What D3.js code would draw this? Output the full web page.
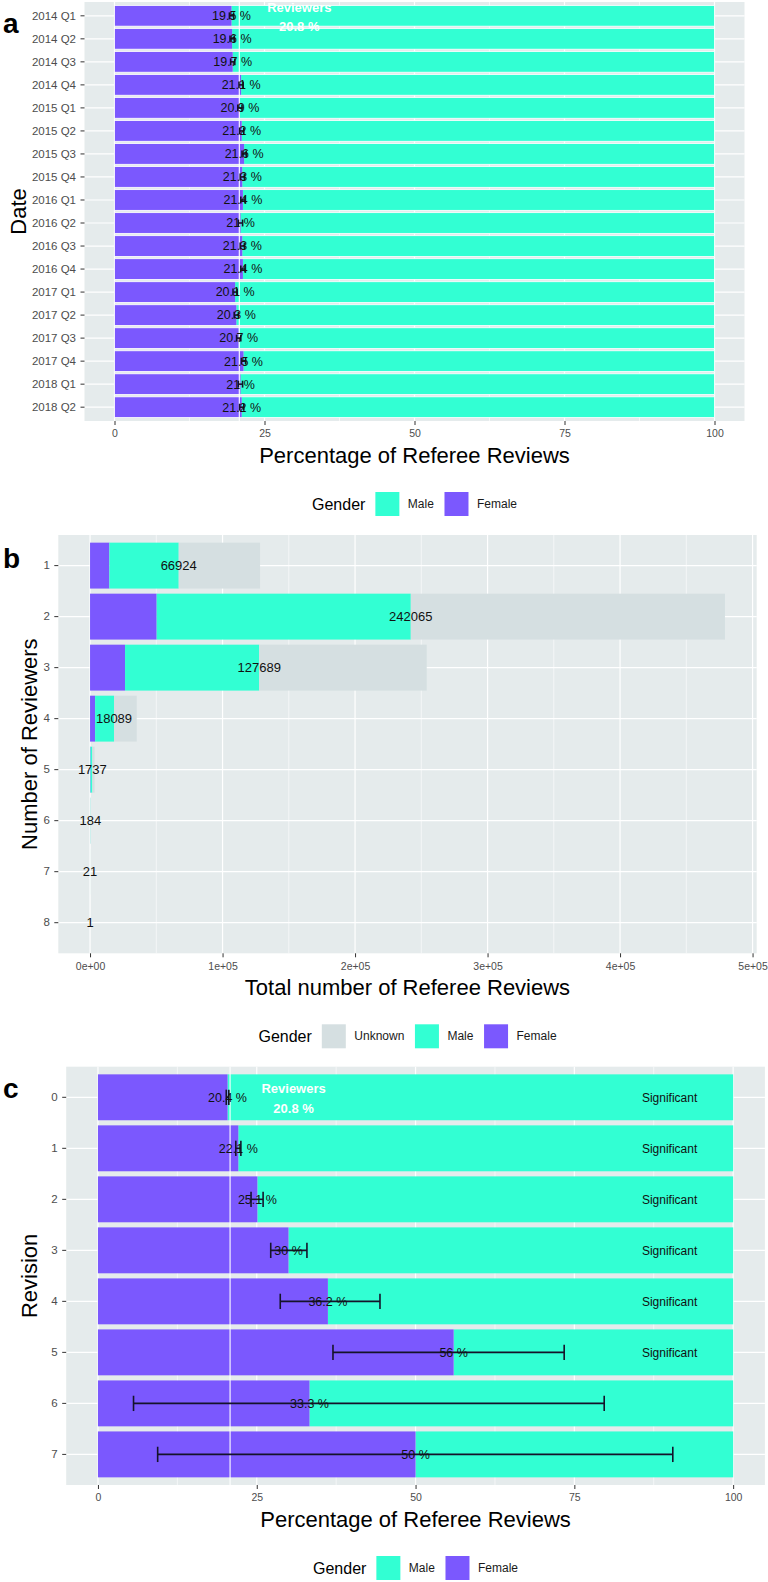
<!DOCTYPE html>
<html>
<head>
<meta charset="utf-8">
<script src="https://cdnjs.cloudflare.com/ajax/libs/d3/7.8.5/d3.min.js"></script>
<style>
  body { margin: 0; background: #fff; }
  svg text { font-family: "Liberation Sans", Arial, sans-serif; }
</style>
</head>
<body>
<svg id="chart" width="768" height="1582"></svg>
<script>
// panel a - share of female referees per quarter
const quarters = ['2014 Q1','2014 Q2','2014 Q3','2014 Q4','2015 Q1','2015 Q2','2015 Q3','2015 Q4','2016 Q1',
  '2016 Q2','2016 Q3','2016 Q4','2017 Q1','2017 Q2','2017 Q3','2017 Q4','2018 Q1','2018 Q2'];
const femaleByQuarter = [19.5,19.6,19.7,21.1,20.9,21.2,21.6,21.3,21.4,21,21.3,21.4,20.1,20.3,20.7,21.5,21,21.2];
const quarterLow  = [19.15,19.25,19.35,20.75,20.55,20.85,21.25,20.95,21.05,20.65,20.95,21.05,19.75,19.95,20.35,21.15,20.65,20.85];
const quarterHigh = [19.85,19.95,20.05,21.45,21.25,21.55,21.95,21.65,21.75,21.35,21.65,21.75,20.45,20.65,21.05,21.85,21.35,21.55];

// panel b - reviews by number of reviewers, stacked by gender
const reviewerCounts = ['1','2','3','4','5','6','7','8'];
const femaleReviews  = [14600, 50300, 26400, 3800, 380, 40, 5, 0];
const maleReviews    = [52324, 191765, 101289, 14289, 1357, 144, 16, 1];
const unknownReviews = [61400, 237100, 126400, 17160, 1700, 180, 20, 1];
const knownLabels    = ['66924','242065','127689','18089','1737','184','21','1'];

// panel c - share of female referees per revision round
const revisions = ['0','1','2','3','4','5','6','7'];
const femaleByRevision = [20.4, 22.1, 25.1, 30, 36.2, 56, 33.3, 50];
const revisionLow  = [20.2, 21.7, 24.1, 27.2, 28.7, 37.0, 5.6, 9.4];
const revisionHigh = [20.6, 22.5, 26.0, 32.9, 44.4, 73.4, 79.7, 90.5];
const significance = ['Significant','Significant','Significant','Significant','Significant','Significant','',''];

const reviewerShare = 20.8;
const percentTicks = [0, 25, 50, 75, 100];
const percentMinor = [12.5, 37.5, 62.5, 87.5];
const reviewTicks = [0, 1e5, 2e5, 3e5, 4e5, 5e5];
const reviewMinor = [5e4, 15e4, 25e4, 35e4, 45e4];

const FEMALE = '#7B58FE', MALE = '#32FFD3', UNKNOWN = '#D5DFE1', PANEL = '#E5EBEC';

const svg = d3.select('#chart');

// grey panel + white grid like ggplot
function frame(x, y, box, ticks, minor) {
  const g = svg.append('g');
  g.append('rect').attr('x', box.left).attr('y', box.top)
    .attr('width', box.right - box.left).attr('height', box.bottom - box.top).attr('fill', PANEL);
  g.selectAll('.minor').data(minor).enter().append('line')
    .attr('x1', d => x(d)).attr('x2', d => x(d)).attr('y1', box.top).attr('y2', box.bottom)
    .attr('stroke', '#fff').attr('stroke-width', 0.6);
  g.selectAll('.major').data(ticks).enter().append('line')
    .attr('x1', d => x(d)).attr('x2', d => x(d)).attr('y1', box.top).attr('y2', box.bottom)
    .attr('stroke', '#fff').attr('stroke-width', 1.2);
  g.selectAll('.hgrid').data(y.domain()).enter().append('line')
    .attr('x1', box.left).attr('x2', box.right)
    .attr('y1', d => y(d) + y.bandwidth() / 2).attr('y2', d => y(d) + y.bandwidth() / 2)
    .attr('stroke', '#fff').attr('stroke-width', 1.2);
}

function axes(x, y, box, ticks, fmt, xTitle, yTitle, yTitleX, letter, letterY) {
  const ya = svg.append('g').attr('transform', `translate(${box.left},0)`)
    .call(d3.axisLeft(y).tickSize(4).tickPadding(4.5));
  const xa = svg.append('g').attr('transform', `translate(0,${box.bottom})`)
    .call(d3.axisBottom(x).tickValues(ticks).tickFormat(fmt).tickSize(4).tickPadding(5));
  [ya, xa].forEach(a => {
    a.select('.domain').remove();
    a.selectAll('line').attr('stroke', '#333');
    a.selectAll('text').attr('fill', '#4D4D4D').attr('font-family', '"Liberation Sans", Arial, sans-serif');
  });
  ya.selectAll('text').attr('font-size', 11.5);
  xa.selectAll('text').attr('font-size', 10.5);

  svg.append('text').attr('x', (box.left + box.right) / 2).attr('y', box.bottom + 42)
    .attr('text-anchor', 'middle').attr('font-size', 22).text(xTitle);
  svg.append('text').attr('transform', `translate(${yTitleX},${(box.top + box.bottom) / 2}) rotate(-90)`)
    .attr('text-anchor', 'middle').attr('font-size', 22).text(yTitle);
  svg.append('text').attr('x', 3).attr('y', letterY).attr('font-size', 28)
    .attr('font-weight', 'bold').text(letter);
}

function legend(cx, cy, items) {
  const g = svg.append('g');
  const title = g.append('text').attr('font-size', 16).attr('dominant-baseline', 'central').text('Gender');
  let pos = title.node().getComputedTextLength() + 10;
  items.forEach(it => {
    g.append('rect').attr('x', pos).attr('y', -12).attr('width', 24).attr('height', 24).attr('fill', it.color);
    pos += 24 + 8.5;
    const t = g.append('text').attr('x', pos).attr('font-size', 12).attr('fill', '#1a1a1a')
      .attr('dominant-baseline', 'central').text(it.label);
    pos += t.node().getComputedTextLength() + 10.6;
  });
  pos -= 10.6;
  g.attr('transform', `translate(${cx - pos / 2},${cy})`);
}

// panels a and c share the same layout
function percentPanel(box, cats, female, low, high, notes, whiteEdge) {
  const x = d3.scaleLinear().domain([-5, 105]).range([box.left, box.right]);
  const y = d3.scaleBand().domain(cats).range([box.top, box.bottom]).paddingInner(0.1).paddingOuter(0.15);
  frame(x, y, box, percentTicks, percentMinor);
  const rows = cats.map((c, i) => ({ c, v: female[i], lo: low[i], hi: high[i], note: notes ? notes[i] : '' }));
  const g = svg.append('g');
  const mid = d => y(d.c) + y.bandwidth() / 2;

  g.selectAll('.male').data(rows).enter().append('rect')
    .attr('x', d => x(d.v)).attr('width', d => x(100) - x(d.v))
    .attr('y', d => y(d.c)).attr('height', y.bandwidth()).attr('fill', MALE);
  g.selectAll('.female').data(rows).enter().append('rect')
    .attr('x', x(0)).attr('width', d => x(d.v) - x(0))
    .attr('y', d => y(d.c)).attr('height', y.bandwidth()).attr('fill', FEMALE);
  if (whiteEdge) {
    g.selectAll('.edge').data(rows).enter().append('rect')
      .attr('x', x(0)).attr('width', x(100) - x(0))
      .attr('y', d => y(d.c)).attr('height', y.bandwidth())
      .attr('fill', 'none').attr('stroke', '#fff').attr('stroke-width', 0.8);
  }
  // overall reviewer share
  g.append('line').attr('x1', x(reviewerShare)).attr('x2', x(reviewerShare))
    .attr('y1', box.top).attr('y2', box.bottom).attr('stroke', '#fff').attr('stroke-width', 1.1);

  // confidence intervals
  const wh = y.step() * 0.15;
  g.selectAll('.err').data(rows).enter().append('line')
    .attr('x1', d => x(d.lo)).attr('x2', d => x(d.hi)).attr('y1', mid).attr('y2', mid)
    .attr('stroke', '#15132a').attr('stroke-width', 1.6);
  ['lo', 'hi'].forEach(k => {
    g.selectAll('.w' + k).data(rows).enter().append('line')
      .attr('x1', d => x(d[k])).attr('x2', d => x(d[k]))
      .attr('y1', d => mid(d) - wh).attr('y2', d => mid(d) + wh)
      .attr('stroke', '#15132a').attr('stroke-width', 1.6);
  });

  g.selectAll('.lab').data(rows).enter().append('text')
    .attr('x', d => x(d.v)).attr('y', mid).attr('dy', '0.35em')
    .attr('text-anchor', 'middle').attr('font-size', 12.5).attr('fill', '#111')
    .text(d => d.v + ' %');
  g.selectAll('.note').data(rows.filter(d => d.note)).enter().append('text')
    .attr('x', x(90)).attr('y', mid).attr('dy', '0.35em')
    .attr('text-anchor', 'middle').attr('font-size', 12).attr('fill', '#111')
    .text(d => d.note);

  const top = mid(rows[0]);
  g.append('text').attr('x', x(reviewerShare + 10)).attr('y', top - 8.7).attr('dy', '0.35em')
    .attr('text-anchor', 'middle').attr('font-size', 13).attr('font-weight', 'bold')
    .attr('fill', '#fff').text('Reviewers');
  g.append('text').attr('x', x(reviewerShare + 10)).attr('y', top + 10.8).attr('dy', '0.35em')
    .attr('text-anchor', 'middle').attr('font-size', 13).attr('font-weight', 'bold')
    .attr('fill', '#fff').text(reviewerShare + ' %');
  return { x, y };
}

// ---- a
const boxA = { left: 84.5, right: 744.5, top: 2, bottom: 421 };
const pa = percentPanel(boxA, quarters, femaleByQuarter, quarterLow, quarterHigh, null, true);
axes(pa.x, pa.y, boxA, percentTicks, d => d, 'Percentage of Referee Reviews', 'Date', 26, 'a', 33);
legend(414.5, boxA.bottom + 83, [{ label: 'Male', color: MALE }, { label: 'Female', color: FEMALE }]);

// ---- b
const boxB = { left: 58.3, right: 756.7, top: 535, bottom: 953.3 };
const totals = reviewerCounts.map((c, i) => femaleReviews[i] + maleReviews[i] + unknownReviews[i]);
const xMax = d3.max(totals);
const xb = d3.scaleLinear().domain([-0.05 * xMax, 1.05 * xMax]).range([boxB.left, boxB.right]);
const yb = d3.scaleBand().domain(reviewerCounts).range([boxB.top, boxB.bottom]).paddingInner(0.1).paddingOuter(0.15);
frame(xb, yb, boxB, reviewTicks, reviewMinor);

const stackRows = reviewerCounts.map((c, i) => ({ c, Female: femaleReviews[i], Male: maleReviews[i], Unknown: unknownReviews[i] }));
const stacked = d3.stack().keys(['Female', 'Male', 'Unknown'])(stackRows);
const stackColor = { Female: FEMALE, Male: MALE, Unknown: UNKNOWN };
svg.append('g').selectAll('g').data(stacked).enter().append('g')
  .attr('fill', s => stackColor[s.key])
  .selectAll('rect').data(s => s).enter().append('rect')
  .attr('x', d => xb(d[0])).attr('width', d => xb(d[1]) - xb(d[0]))
  .attr('y', d => yb(d.data.c)).attr('height', yb.bandwidth());

svg.append('g').selectAll('text').data(stackRows).enter().append('text')
  .attr('x', d => xb(d.Female + d.Male)).attr('y', d => yb(d.c) + yb.bandwidth() / 2).attr('dy', '0.35em')
  .attr('text-anchor', 'middle').attr('font-size', 13).attr('fill', '#111')
  .text((d, i) => knownLabels[i]);

const sci = d => {
  if (d === 0) return '0e+00';
  const e = Math.floor(Math.log10(d));
  return Math.round(d / Math.pow(10, e)) + 'e+' + String(e).padStart(2, '0');
};
axes(xb, yb, boxB, reviewTicks, sci, 'Total number of Referee Reviews', 'Number of Reviewers', 37, 'b', 568);
legend(407.5, boxB.bottom + 83, [{ label: 'Unknown', color: UNKNOWN }, { label: 'Male', color: MALE }, { label: 'Female', color: FEMALE }]);

// ---- c
const boxC = { left: 66.2, right: 764.9, top: 1066.7, bottom: 1485 };
const pc = percentPanel(boxC, revisions, femaleByRevision, revisionLow, revisionHigh, significance, false);
axes(pc.x, pc.y, boxC, percentTicks, d => d, 'Percentage of Referee Reviews', 'Revision', 37, 'c', 1098);
legend(415.5, boxC.bottom + 83, [{ label: 'Male', color: MALE }, { label: 'Female', color: FEMALE }]);
</script>
</body>
</html>
